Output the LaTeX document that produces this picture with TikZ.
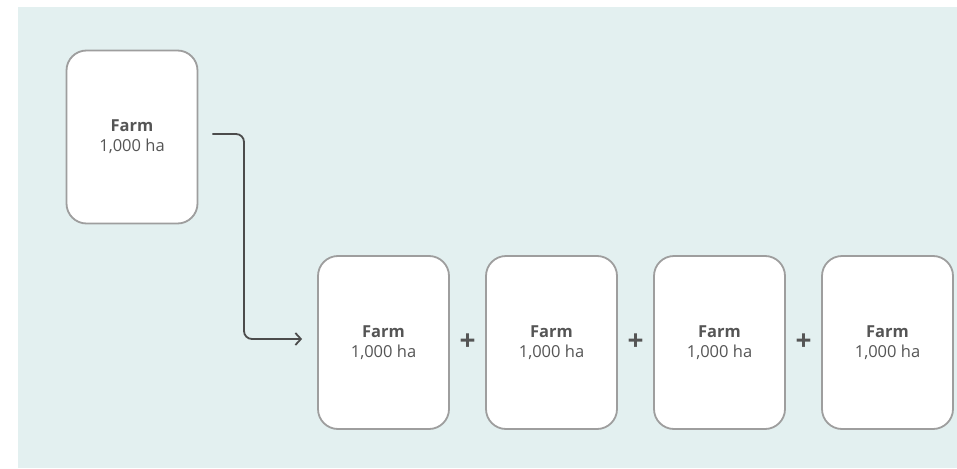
\documentclass[tikz,border=0pt]{standalone}
\usepackage{fontspec}
\setmainfont{Open Sans}
\usetikzlibrary{arrows.meta,calc}
\definecolor{bgc}{HTML}{E3F0F0}
\definecolor{boxline}{HTML}{9E9E9E}
\definecolor{txt}{HTML}{555555}
\begin{document}
\begin{tikzpicture}[x=1pt,y=-1pt,
  farmbox/.style={draw=boxline, line width=1.8pt, fill=white, rounded corners=20pt,
    minimum width=131pt, minimum height=173pt, inner sep=0pt, align=center,
    text=txt, font=\fontsize{16.5}{20}\selectfont},
  plussign/.style={text=txt, font=\fontsize{28}{28}\selectfont\bfseries},
  conn/.style={draw=txt!90!black, line width=1.8pt, rounded corners=8pt, -{Straight Barb[length=5.5pt,width=12pt]}}]
\useasboundingbox (0,0) rectangle (957,468);
\fill[bgc] (18,7) rectangle (957,468);
\node[farmbox] (f0) at (132,137) {\textbf{Farm}\\1,000 ha};
\node[farmbox] (f1) at (383.5,342.5) {\textbf{Farm}\\1,000 ha};
\node[farmbox] (f2) at (551.5,342.5) {\textbf{Farm}\\1,000 ha};
\node[farmbox] (f3) at (719.5,342.5) {\textbf{Farm}\\1,000 ha};
\node[farmbox] (f4) at (887.5,342.5) {\textbf{Farm}\\1,000 ha};
\node[plussign] (p1) at ($(f1.east)!0.5!(f2.west)$) {+};
\node[plussign] (p2) at ($(f2.east)!0.5!(f3.west)$) {+};
\node[plussign] (p3) at ($(f3.east)!0.5!(f4.west)$) {+};
\coordinate (a0) at ([xshift=14pt,yshift=3pt]f0.east);
\coordinate (a1) at ([xshift=-15pt,yshift=3.5pt]f1.west);
\draw[conn] (a0) -| (244,200) |- (a1);
\end{tikzpicture}
\end{document}
